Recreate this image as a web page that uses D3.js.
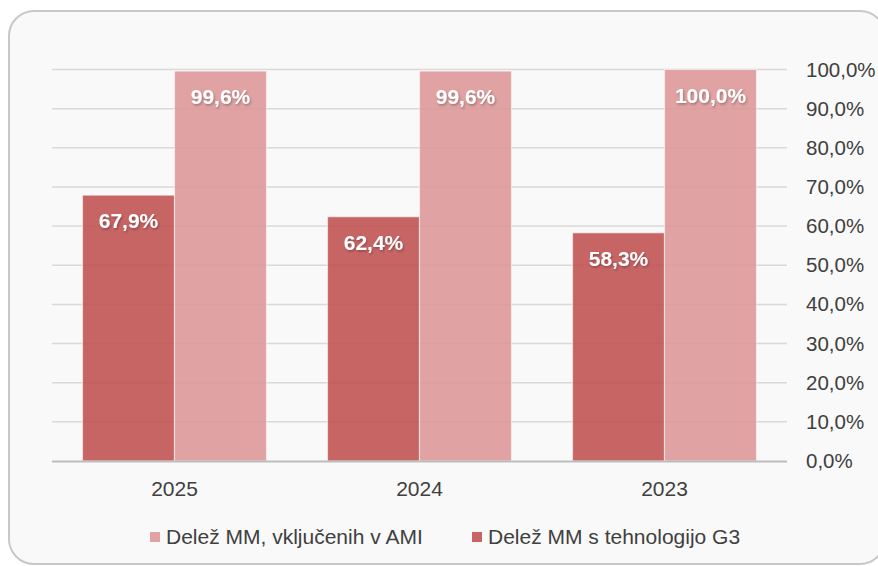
<!DOCTYPE html>
<html>
<head>
<meta charset="utf-8">
<script src="https://cdn.jsdelivr.net/npm/d3@7"></script>
<style>
  body { margin: 0; background: #fff; overflow: hidden; }
  text { font-family: "Liberation Sans", Arial, sans-serif; }
</style>
</head>
<body>
<div id="chart"></div>
<script>
const width = 878
const height = 566

/* Data */
const years = ['2025', '2024', '2023']
const series = ['g3', 'ami']
const seriesNames = { ami: 'Delež MM, vključenih v AMI', g3: 'Delež MM s tehnologijo G3' }
const g3Values = [67.9, 62.4, 58.3]
const amiValues = [99.6, 99.6, 100.0]
const yTicks = [0, 10, 20, 30, 40, 50, 60, 70, 80, 90, 100]

const rows = years.map((y, i) => ({ year: y, g3: g3Values[i], ami: amiValues[i] }))

/* Colours */
const color = d3.scaleOrdinal()
    .domain(series)
    .range(['rgb(190,75,75)', 'rgb(220,147,147)'])

const fmt = v => d3.format('.1f')(v).replace('.', ',') + '%'

/* Scales */
const x = d3.scaleBand().domain(years).range([52, 787])
const x1 = d3.scaleBand().domain(series).range([30.5, x.bandwidth() - 30.5])
const y = d3.scaleLinear().domain([0, 100]).range([461, 69.5])

const svg = d3.select('#chart').append('svg')
    .attr('width', width).attr('height', height)
    .style('display', 'block')

const defs = svg.append('defs')
const shadow = defs.append('filter').attr('id', 'shadow')
    .attr('x', '-20%').attr('y', '-20%').attr('width', '140%').attr('height', '160%')
shadow.append('feDropShadow')
    .attr('dx', 1).attr('dy', 1.5).attr('stdDeviation', 1.2)
    .attr('flood-color', '#000').attr('flood-opacity', 0.3)

/* Card (runs off the right edge of the picture) */
svg.append('rect')
    .attr('x', 9).attr('y', 11)
    .attr('width', 876).attr('height', 553)
    .attr('rx', 25)
    .attr('fill', '#f9f9f9')
    .attr('stroke', '#c8c8c8')
    .attr('stroke-width', 2)

/* Grid */
svg.append('g')
    .selectAll('line')
    .data(yTicks.filter(d => d > 0))
    .join('line')
    .attr('x1', 52).attr('x2', 787)
    .attr('y1', d => y(d)).attr('y2', d => y(d))
    .attr('stroke', '#d9d9d9')
    .attr('stroke-width', 1.5)

/* Right axis */
const yAxis = svg.append('g')
    .attr('transform', 'translate(787,0)')
    .call(d3.axisRight(y).tickValues(yTicks).tickFormat(fmt).tickSize(0).tickPadding(19))
yAxis.select('.domain').remove()
yAxis.selectAll('text')
    .attr('font-size', 20.5)
    .attr('fill', '#404040')

/* Bars */
const groups = svg.append('g')
    .selectAll('g')
    .data(rows)
    .join('g')
    .attr('transform', d => `translate(${x(d.year)},0)`)

groups.selectAll('rect')
    .data(d => series.map(k => ({ key: k, value: d[k] })))
    .join('rect')
    .attr('x', d => x1(d.key))
    .attr('width', x1.bandwidth())
    .attr('y', d => y(d.value))
    .attr('height', d => y(0) - y(d.value))
    .attr('fill', d => color(d.key))
    .attr('fill-opacity', 0.85)
    .attr('stroke', 'rgba(255,255,255,0.55)')
    .attr('stroke-width', 1.2)

groups.selectAll('text.val')
    .data(d => series.map(k => ({ key: k, value: d[k] })))
    .join('text')
    .attr('class', 'val')
    .attr('x', d => x1(d.key) + x1.bandwidth() / 2)
    .attr('y', d => y(d.value) + 33)
    .attr('text-anchor', 'middle')
    .attr('font-size', 21)
    .attr('font-weight', 'bold')
    .attr('fill', '#fff')
    .attr('filter', 'url(#shadow)')
    .text(d => fmt(d.value))

/* Baseline */
svg.append('line')
    .attr('x1', 52).attr('x2', 787)
    .attr('y1', y(0) + 0.5).attr('y2', y(0) + 0.5)
    .attr('stroke', '#bdbdbd')
    .attr('stroke-width', 2)

/* X axis labels */
const xAxis = svg.append('g')
    .attr('transform', `translate(0,${y(0)})`)
    .call(d3.axisBottom(x).tickSize(0).tickPadding(20))
xAxis.select('.domain').remove()
xAxis.selectAll('text')
    .attr('font-size', 21)
    .attr('fill', '#404040')

/* Legend */
const legendItems = [
    { key: 'ami', x: 150 },
    { key: 'g3', x: 472 },
]
const legend = svg.append('g')
    .selectAll('g')
    .data(legendItems)
    .join('g')
    .attr('transform', d => `translate(${d.x},537)`)

legend.append('rect')
    .attr('x', 0).attr('y', -5)
    .attr('width', 10).attr('height', 10)
    .attr('fill', d => color(d.key))
    .attr('fill-opacity', 0.85)

legend.append('text')
    .attr('x', 16)
    .attr('dy', '0.35em')
    .attr('font-size', 21)
    .attr('fill', '#404040')
    .text(d => seriesNames[d.key])
</script>
</body>
</html>
